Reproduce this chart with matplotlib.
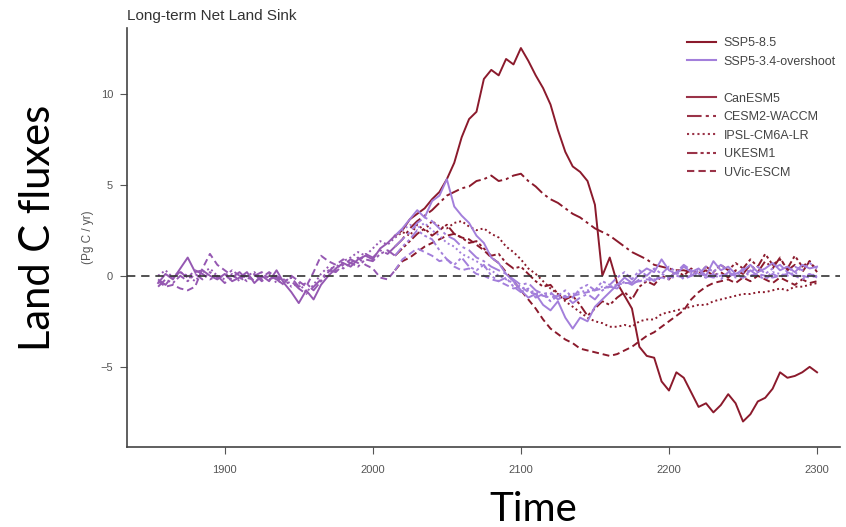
import matplotlib
matplotlib.use("Agg")
import matplotlib.pyplot as plt
from matplotlib.lines import Line2D

RED, PURPLE, HIST_C = "#8b1a2c", "#a37fdb", "#9558b2"
LEG_RED = "#9a3348"

# ---------------------------------------------------------------- data
HIST_YEARS = list(range(1855, 2016, 5))
SCEN_YEARS = list(range(2015, 2301, 5))

MODELS = ["CanESM5", "CESM2-WACCM", "IPSL-CM6A-LR", "UKESM1", "UVic-ESCM"]

HIST = {
    "CanESM5": [-0.4, 0.1, -0.2, 0.4, 1.0, 0.2, 0.3, 0.0, -0.2, 0.1, -0.3, -0.1, 0.2,
                -0.4, 0.0, -0.3, 0.3, -0.4, -0.9, -1.5, -0.8, -1.3, -0.5, 0.0, 0.4, 0.7,
                0.5, 0.9, 1.1, 0.9, 1.5, 1.8, 2.2],
    "CESM2-WACCM": [-0.2, -0.5, 0.0, 0.2, -0.1, 0.3, 0.1, -0.2, 0.0, -0.4, -0.1, 0.2, -0.2,
                    0.1, -0.3, 0.0, -0.2, -0.5, -0.3, -0.7, -1.0, -0.6, -0.2, 0.3, 0.2, 0.6,
                    0.9, 0.7, 1.2, 1.0, 1.4, 1.2, 1.6],
    "IPSL-CM6A-LR": [0.0, 0.3, -0.1, 0.2, 0.0, -0.3, 0.2, 0.4, 0.0, -0.2, 0.1, -0.3, 0.0,
                     0.2, -0.2, 0.1, -0.4, -0.2, -0.6, -0.4, -0.9, -0.5, 0.1, 0.5, 0.3, 0.8,
                     1.0, 1.3, 1.1, 1.5, 1.9, 1.7, 2.1],
    "UKESM1": [-0.6, -0.2, -0.4, 0.0, -0.3, 0.1, -0.2, 0.2, -0.1, 0.0, 0.3, 0.0, -0.3,
               0.0, 0.2, -0.2, 0.0, -0.3, -0.1, -0.6, -0.4, -0.8, -0.3, 0.2, 0.6, 0.4,
               0.7, 0.5, 0.9, 0.8, 1.2, 1.4, 1.1],
    "UVic-ESCM": [-0.3, -0.6, -0.5, -0.7, -0.8, -0.6, 0.4, 1.2, 0.6, 0.3, 0.0, -0.2, 0.1,
                  -0.3, -0.1, 0.2, -0.1, -0.4, 0.0, -0.3, -0.6, 0.2, 1.1, 0.8, 0.6, 0.9,
                  0.7, 1.0, 0.6, 0.4, -0.1, -0.2, 0.3],
}

SSP585 = {
    "CanESM5": [2.2, 2.5, 3.1, 3.4, 3.7, 4.2, 4.6, 5.3, 6.2, 7.6,
                8.6, 9.0, 10.8, 11.3, 11.0, 11.9, 11.6, 12.5, 11.8, 11.0,
                10.3, 9.4, 8.0, 6.8, 6.0, 5.7, 5.2, 3.9, 0.0, 1.0,
                -0.4, -1.1, -1.8, -3.9, -4.4, -4.5, -5.8, -6.3, -5.3, -5.6,
                -6.4, -7.2, -7.0, -7.5, -7.1, -6.5, -7.0, -8.0, -7.6, -6.9,
                -6.7, -6.2, -5.3, -5.6, -5.5, -5.3, -5.0, -5.3],
    "CESM2-WACCM": [1.6, 2.0, 2.6, 3.0, 3.3, 3.6, 4.0, 4.4, 4.6, 4.8,
                    4.9, 5.2, 5.3, 5.5, 5.2, 5.3, 5.5, 5.6, 5.2, 4.9,
                    4.5, 4.2, 4.0, 3.7, 3.4, 3.2, 2.9, 2.6, 2.4, 2.2,
                    1.9, 1.6, 1.3, 1.1, 0.9, 0.6, 0.5, 0.4, 0.3, 0.3,
                    0.2, 0.1, 0.3, 0.0, 0.2, -0.1, 0.3, 0.1, 0.6, 0.2,
                    0.8, 0.4, 1.0, 0.3, 0.6, 0.2, 0.8, 0.3],
    "IPSL-CM6A-LR": [2.1, 2.4, 2.2, 2.8, 2.5, 3.0, 2.7, 2.6, 2.9, 3.0,
                     2.7, 2.5, 2.6, 2.3, 2.1, 1.6, 1.3, 0.9, 0.4, 0.1,
                     -0.3, -0.7, -1.0, -1.4, -1.7, -2.0, -2.3, -2.5, -2.6, -2.8,
                     -2.8, -2.7, -2.8, -2.5, -2.4, -2.4, -2.1, -2.0, -1.9, -1.8,
                     -1.7, -1.6, -1.6, -1.4, -1.3, -1.2, -1.1, -1.0, -1.0, -0.9,
                     -0.9, -0.8, -0.7, -0.8, -0.6, -0.6, -0.5, -0.4],
    "UKESM1": [1.1, 1.5, 1.9, 2.3, 2.6, 2.2, 2.5, 2.8, 2.3, 2.1,
               1.8, 1.9, 1.5, 1.1, 1.2, 0.7, 0.4, 0.5, 0.1, -0.3,
               -0.6, -0.5, -1.0, -1.3, -1.1, -1.6, -2.2, -1.8, -1.4, -1.6,
               -1.2, -0.9, -1.3, -0.6, -0.3, -0.5, 0.0, -0.2, 0.3, 0.0,
               0.4, 0.1, 0.5, 0.2, 0.6, 0.3, 0.7, 0.4, 0.9, 0.5,
               1.2, 0.6, 0.9, 0.4, 1.1, 0.5, 0.8, 0.2],
    "UVic-ESCM": [0.3, 0.8, 1.0, 1.3, 1.6, 1.8, 2.0, 2.2, 2.3, 2.1,
                  2.0, 1.7, 1.4, 1.0, 0.7, 0.2, -0.3, -0.8, -1.3, -1.8,
                  -2.4, -2.9, -3.2, -3.5, -3.7, -4.0, -4.1, -4.2, -4.3, -4.4,
                  -4.3, -4.1, -3.9, -3.6, -3.3, -3.1, -2.8, -2.5, -2.2, -1.9,
                  -1.3, -0.9, -0.6, -0.4, -0.3, -0.2, -0.4, -0.1, -0.3, 0.0,
                  -0.2, -0.4, -0.1, -0.3, -0.5, -0.2, -0.4, -0.3],
}

SSP534 = {
    "CanESM5": [2.2, 2.6, 3.1, 3.6, 3.2, 4.1, 4.4, 5.3, 3.8, 3.3,
                2.9, 2.2, 1.8, 1.0, 0.7, 0.1, -0.3, -0.8, -1.2, -1.0,
                -1.6, -1.9, -1.4, -2.3, -2.9, -2.3, -2.5, -1.7, -1.3, -0.9,
                -0.5, -0.1, -0.4, 0.1, 0.4, 0.2, 0.9, 0.3, 0.1, 0.5,
                0.2, 0.4, 0.0, 0.8, 0.3, 0.5, 0.1, 0.3, 0.6, 0.2,
                0.4, 0.7, 0.3, 0.5, 0.2, 0.6, 0.4, 0.5],
    "CESM2-WACCM": [1.6, 2.0, 2.4, 2.9, 3.2, 3.0, 2.6, 2.2, 2.0, 1.6,
                    1.4, 1.0, 0.8, 0.5, 0.3, 0.1, -0.2, -0.5, -0.4, -0.8,
                    -1.0, -0.9, -1.3, -1.1, -1.5, -1.2, -1.0, -1.3, -0.8, -0.6,
                    -0.7, -0.3, -0.5, -0.2, 0.0, -0.3, 0.1, -0.1, 0.2, -0.2,
                    0.0, 0.3, -0.1, 0.1, -0.2, 0.2, 0.0, -0.1, 0.3, 0.0,
                    -0.2, 0.1, -0.1, 0.2, 0.0, -0.2, 0.1, -0.1],
    "IPSL-CM6A-LR": [2.1, 2.5, 2.8, 2.6, 2.9, 2.5, 2.2, 1.8, 1.6, 1.2,
                     1.0, 0.8, 0.5, 0.3, 0.0, -0.2, -0.4, -0.6, -0.8, -0.9,
                     -1.1, -1.0, -1.2, -1.1, -1.0, -0.9, -0.8, -0.8, -0.6, -0.6,
                     -0.5, -0.4, -0.4, -0.3, -0.3, -0.2, -0.1, -0.2, 0.0, -0.1,
                     0.1, 0.0, -0.1, 0.2, 0.0, 0.1, -0.1, 0.2, 0.0, 0.1,
                     -0.1, 0.2, 0.1, 0.0, 0.2, -0.1, 0.1, 0.0],
    "UKESM1": [1.1, 1.6, 2.0, 2.5, 2.2, 2.0, 1.4, 0.9, 0.6, 1.0,
               0.5, 0.3, 0.6, 0.0, -0.3, -0.1, -0.6, -0.9, -0.7, -1.2,
               -1.0, -1.4, -1.1, -0.8, -1.2, -0.7, -0.5, -0.8, -0.3, -0.5,
               -0.1, 0.2, -0.2, 0.3, 0.0, 0.4, 0.1, 0.5, 0.2, 0.6,
               0.3, 0.1, 0.5, 0.2, 0.6, 0.3, 0.0, 0.4, 0.2, 0.5,
               0.1, 0.4, 0.6, 0.2, 0.5, 0.3, 0.7, 0.4],
    "UVic-ESCM": [0.3, 0.9, 1.2, 1.5, 1.3, 1.1, 0.8, 0.9, 0.5, 0.3,
                  0.4, 0.1, 0.0, -0.2, -0.3, -0.5, -0.7, -0.6, -0.9, -1.0,
                  -1.1, -1.2, -1.1, -1.2, -1.1, -1.0, -0.9, -0.8, -0.7, -0.6,
                  -0.5, -0.4, -0.4, -0.3, -0.2, -0.2, -0.1, -0.1, 0.0, -0.1,
                  0.0, 0.1, 0.0, -0.1, 0.0, 0.1, 0.0, -0.1, 0.0, 0.1,
                  0.0, -0.1, 0.0, 0.1, 0.0, 0.0, -0.1, 0.0],
}

STYLES = {
    "CanESM5": "-",
    "CESM2-WACCM": (0, (7, 2, 1.5, 2)),
    "IPSL-CM6A-LR": (0, (1, 1.5)),
    "UKESM1": (0, (5, 1.5, 1.5, 1.5, 1.5, 1.5)),
    "UVic-ESCM": (0, (3.5, 2)),
}

# ---------------------------------------------------------------- figure
plt.rcParams["font.family"] = ["Liberation Sans", "DejaVu Sans"]
fig = plt.figure(figsize=(8.46, 5.27), dpi=100)
ax = fig.add_axes([127 / 846, 1 - 447 / 527, 713 / 846, 419 / 527])

lw = 1.4
for m in MODELS:
    ax.plot(SCEN_YEARS, SSP585[m], color=RED, ls=STYLES[m], lw=lw)
for m in MODELS:
    ax.plot(SCEN_YEARS, SSP534[m], color=PURPLE, ls=STYLES[m], lw=lw)
for m in MODELS:
    ax.plot(HIST_YEARS, HIST[m], color=HIST_C, ls=STYLES[m], lw=lw)

ax.axhline(0, color="#333333", ls=(0, (5, 3.5)), lw=1.2, zorder=5)

ax.set_xlim(1834, 2315.5)
ax.set_ylim(-9.4, 13.6)
ax.set_xticks([1900, 2000, 2100, 2200, 2300])
ax.set_yticks([-5, 0, 5, 10])
for s in ["top", "right"]:
    ax.spines[s].set_visible(False)
for s in ["left", "bottom"]:
    ax.spines[s].set_color("#444444")
    ax.spines[s].set_linewidth(1.2)
ax.tick_params(labelsize=8, labelcolor="#555555", color="#555555", length=5,
               width=0.8, pad=5)
ax.tick_params(axis="x", pad=8)
ax.set_ylabel("(Pg C / yr)", fontsize=8.5, color="#555555", labelpad=5)
ax.set_title("Long-term Net Land Sink", loc="left", fontsize=11, color="#333333", pad=6)

handles = [
    Line2D([], [], color=RED, lw=1.5),
    Line2D([], [], color=PURPLE, lw=1.5),
    Line2D([], [], color="none"),
] + [Line2D([], [], color=LEG_RED, lw=1.5, ls=STYLES[m]) for m in MODELS]
labels = ["SSP5-8.5", "SSP5-3.4-overshoot", ""] + MODELS
leg = ax.legend(handles, labels, loc="upper right", frameon=False, fontsize=9,
                handlelength=2.3, handletextpad=0.6, labelspacing=0.52,
                bbox_to_anchor=(1.01, 1.005))
for t in leg.get_texts():
    t.set_color("#444444")

fig.text(0.045, 0.567, "Land C fluxes", rotation=90, ha="center", va="center",
         fontsize=30, family="Lato")
fig.text(0.630, 0.012, "Time", ha="center", va="baseline", fontsize=29, family="Lato")

fig.savefig("out.png", dpi=100)
